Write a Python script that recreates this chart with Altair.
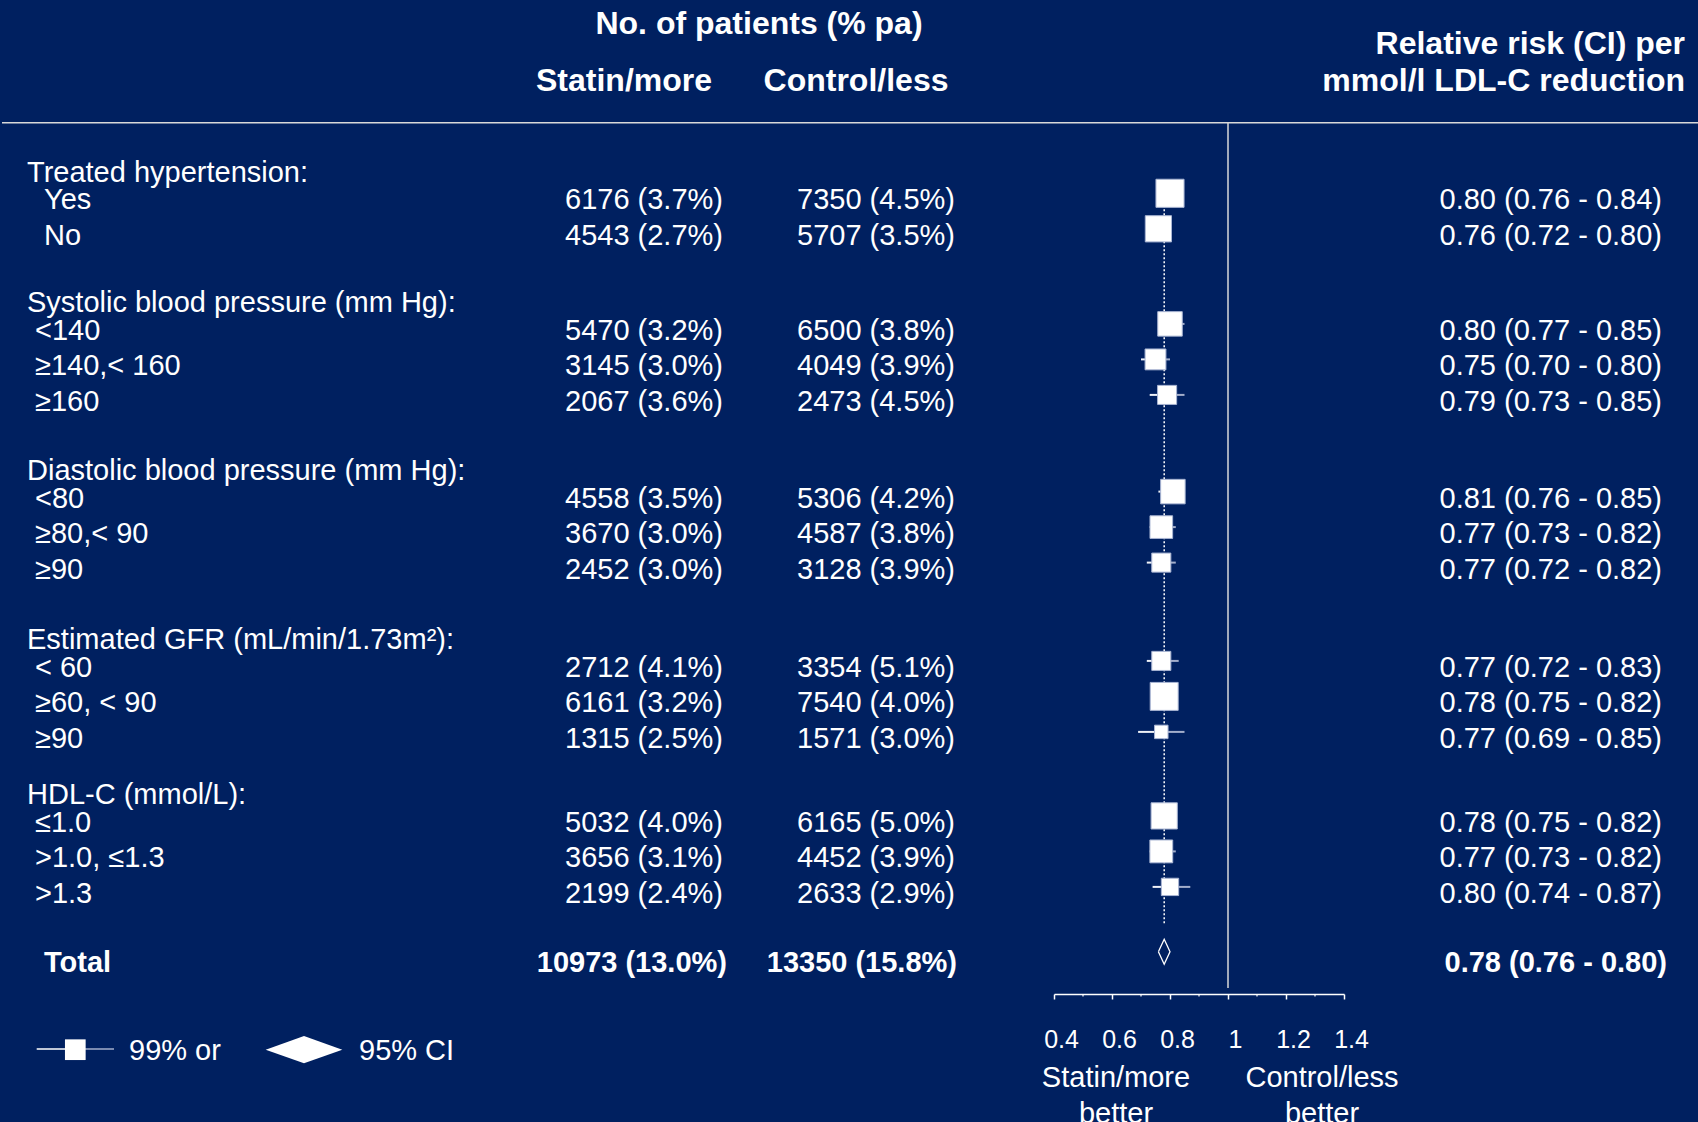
import altair as alt
import pandas as pd

# ------------------------------------------------------------------ data
group_titles = [
    "Treated hypertension:",
    "Systolic blood pressure (mm Hg):",
    "Diastolic blood pressure (mm Hg):",
    "Estimated GFR (mL/min/1.73m²):",
    "HDL-C (mmol/L):",
]
group_sizes = [2, 3, 3, 3, 3]
row_labels = [
    "Yes", "No",
    "<140", "≥140,< 160", "≥160",
    "<80", "≥80,< 90", "≥90",
    "< 60", "≥60, < 90", "≥90",
    "≤1.0", ">1.0, ≤1.3", ">1.3",
]
statin_events = [6176, 4543, 5470, 3145, 2067, 4558, 3670, 2452, 2712, 6161, 1315, 5032, 3656, 2199]
statin_rate = [3.7, 2.7, 3.2, 3.0, 3.6, 3.5, 3.0, 3.0, 4.1, 3.2, 2.5, 4.0, 3.1, 2.4]
control_events = [7350, 5707, 6500, 4049, 2473, 5306, 4587, 3128, 3354, 7540, 1571, 6165, 4452, 2633]
control_rate = [4.5, 3.5, 3.8, 3.9, 4.5, 4.2, 3.8, 3.9, 5.1, 4.0, 3.0, 5.0, 3.9, 2.9]
rr = [0.80, 0.76, 0.80, 0.75, 0.79, 0.81, 0.77, 0.77, 0.77, 0.78, 0.77, 0.78, 0.77, 0.80]
ci_low = [0.76, 0.72, 0.77, 0.70, 0.73, 0.76, 0.73, 0.72, 0.72, 0.75, 0.69, 0.75, 0.73, 0.74]
ci_high = [0.84, 0.80, 0.85, 0.80, 0.85, 0.85, 0.82, 0.82, 0.83, 0.82, 0.85, 0.82, 0.82, 0.87]
weight = [100, 87, 76, 55, 46, 76, 65, 46, 46, 99, 23, 87, 66, 38]  # relative box weight

total_label = "Total"
total_statin = [10973, 13.0]
total_control = [13350, 15.8]
total_rr = [0.78, 0.76, 0.80]

axis_ticks = [0.4, 0.6, 0.8, 1.0, 1.2, 1.4]
minor_ticks = [0.5, 0.7, 0.9, 1.1, 1.3]

# ------------------------------------------------------------------ page styling
BG = "#002060"
PAGE_CSS = "body{margin:0;background:%s;overflow:hidden}" % BG
patched = False
try:
    import altair.utils.html as _ah

    _orig = _ah.TEMPLATES["standard"]

    class _BlueTemplate:
        def render(self, **kw):
            html = _orig.render(**kw)
            if "<style>" in html:
                return html.replace("<style>", "<style>\n    " + PAGE_CSS, 1)
            if "<head>" in html:
                return html.replace("<head>", "<head><style>" + PAGE_CSS + "</style>", 1)
            return html

    _ah.TEMPLATES["standard"] = _BlueTemplate()
    patched = True
except Exception:
    patched = False

OFF = 0 if patched else 8          # page margin
PAGE_W, PAGE_H = 1698, 1122
AXIS_Y = 994                       # page y of the forest axis
W = PAGE_W - 2 * OFF
H = AXIS_Y - OFF
PAD_B = PAGE_H - OFF - AXIS_Y


def px(v):
    return v - OFF


# ------------------------------------------------------------------ layout / style
FONT = "Liberation Sans"
FG = "white"
LINE = "#d9d9d9"
FS = 29
HEAD0, HEAD_TO_ITEM, ITEM_STEP = 181.7, 27.6, 35.5
GROUP_GAPS = [67.5, 69.1, 70.7, 56.4, 68.8]   # vertical gap after each block
ITEM_INDENT = [44, 35, 35, 35, 35]             # x of the sub-row labels per block
BOX_SHIFT = -16

heads, items = [], []
y = HEAD0
k = 0
for g, title in enumerate(group_titles):
    heads.append({"label": title, "ypos": y})
    y += HEAD_TO_ITEM
    for j in range(group_sizes[g]):
        items.append({
            "g": g,
            "label": row_labels[k],
            "ypos": y,
            "statin": f"{statin_events[k]} ({statin_rate[k]:.1f}%)",
            "control": f"{control_events[k]} ({control_rate[k]:.1f}%)",
            "rrtxt": f"{rr[k]:.2f} ({ci_low[k]:.2f} - {ci_high[k]:.2f})",
            "rr": rr[k], "lo": ci_low[k], "hi": ci_high[k], "weight": weight[k],
        })
        k += 1
        if j < group_sizes[g] - 1:
            y += ITEM_STEP
    y += GROUP_GAPS[g]
total_y = y

heads_df = pd.DataFrame(heads)
items_df = pd.DataFrame(items)
total_df = pd.DataFrame([{
    "label": total_label, "ypos": total_y,
    "statin": f"{total_statin[0]} ({total_statin[1]:.1f}%)",
    "control": f"{total_control[0]} ({total_control[1]:.1f}%)",
    "rrtxt": f"{total_rr[0]:.2f} ({total_rr[1]:.2f} - {total_rr[2]:.2f})",
}])

xscale = alt.Scale(domain=[0.4, 1.4], range=[px(1054), px(1344)], zero=False, nice=False)
yscale = alt.Scale(domain=[OFF, AXIS_Y], range=[0, H], zero=False, nice=False)
xaxis = alt.Axis(values=axis_ticks, format="~g", title=None, grid=False,
                 domainColor=FG, domainWidth=1.5, tickColor=FG, tickWidth=1.5,
                 tickSize=5, labelColor=FG, labelFont=FONT, labelFontSize=25,
                 labelBaseline="alphabetic", labelPadding=48, labelOffset=7,
                 labelFlush=False, labelOverlap=False)


def X(field):
    return alt.X(f"{field}:Q", scale=xscale, axis=xaxis)


def Y(field):
    return alt.Y(f"{field}:Q", scale=yscale, axis=None)


one = pd.DataFrame({"a": [0]})


def text(s, x, yv, align="left", bold=False, size=FS, line_height=None):
    kw = dict(text=s, align=align, baseline="alphabetic", font=FONT, fontSize=size,
              color=FG, fontWeight="bold" if bold else "normal")
    if line_height:
        kw["lineHeight"] = line_height
    return alt.Chart(one).mark_text(**kw).encode(x=alt.value(px(x)), y=alt.value(px(yv)))


layers = []

# frame lines
layers.append(alt.Chart(one).mark_rule(color=LINE, strokeWidth=1.5).encode(
    x=alt.value(px(max(2, OFF))), x2=alt.value(px(PAGE_W)), y=alt.value(px(122.7))))
layers.append(alt.Chart(pd.DataFrame({"v": [1.0]})).mark_rule(color=LINE, strokeWidth=1.5).encode(
    x=X("v"), y=alt.value(px(123)), y2=alt.value(px(988))))

# minor axis ticks
layers.append(alt.Chart(pd.DataFrame({"v": minor_ticks})).mark_rule(color=FG, strokeWidth=1.2).encode(
    x=X("v"), y=alt.value(H), y2=alt.value(H + 2.5)))

# dotted overall line
first_y = items_df["ypos"].iloc[0]
last_y = items_df["ypos"].iloc[-1]
layers.append(alt.Chart(pd.DataFrame({"v": [total_rr[0]], "y0": [first_y + BOX_SHIFT], "y1": [last_y + 22]}))
              .mark_rule(color=FG, strokeWidth=1.5, strokeDash=[2, 2])
              .encode(x=X("v"), y=Y("y0"), y2="y1"))

# confidence intervals
layers.append(alt.Chart(items_df).mark_rule(color="#eef1f7", strokeWidth=2, yOffset=BOX_SHIFT).encode(
    x=X("lo"), x2="rr", y=Y("ypos")))
layers.append(alt.Chart(items_df).mark_rule(color="#a3aecb", strokeWidth=2, yOffset=BOX_SHIFT).encode(
    x=X("rr"), x2="hi", y=Y("ypos")))

# boxes
layers.append(alt.Chart(items_df).mark_square(color=FG, opacity=1, stroke="#a9b5d3", strokeWidth=1,
                                             yOffset=BOX_SHIFT).encode(
    x=X("rr"), y=Y("ypos"),
    size=alt.Size("weight:Q", scale=alt.Scale(domain=[0, 100], range=[0, 790]), legend=None)))

# total diamond (outline)
ty = total_y - 20
dia = pd.DataFrame({"o": [0, 1, 2, 3, 4],
                    "x": [total_rr[1], total_rr[0], total_rr[2], total_rr[0], total_rr[1]],
                    "y": [ty, ty - 12.5, ty, ty + 12.5, ty]})
layers.append(alt.Chart(dia).mark_line(color=FG, strokeWidth=1.3).encode(
    x=X("x"), y=Y("y"), order="o:Q"))

# table text
base_txt = dict(baseline="alphabetic", font=FONT, fontSize=FS, color=FG)
layers.append(alt.Chart(heads_df).mark_text(align="left", **base_txt).encode(
    x=alt.value(px(27)), y=Y("ypos"), text="label:N"))
for g in range(len(group_titles)):
    layers.append(alt.Chart(items_df[items_df["g"] == g]).mark_text(align="left", **base_txt).encode(
        x=alt.value(px(ITEM_INDENT[g])), y=Y("ypos"), text="label:N"))
layers.append(alt.Chart(items_df).mark_text(align="right", **base_txt).encode(
    x=alt.value(px(723)), y=Y("ypos"), text="statin:N"))
layers.append(alt.Chart(items_df).mark_text(align="right", **base_txt).encode(
    x=alt.value(px(955)), y=Y("ypos"), text="control:N"))
layers.append(alt.Chart(items_df).mark_text(align="right", **base_txt).encode(
    x=alt.value(px(1662)), y=Y("ypos"), text="rrtxt:N"))

bold_txt = dict(base_txt, fontWeight="bold")
layers.append(alt.Chart(total_df).mark_text(align="left", **bold_txt).encode(
    x=alt.value(px(44)), y=Y("ypos"), text="label:N"))
layers.append(alt.Chart(total_df).mark_text(align="right", **bold_txt).encode(
    x=alt.value(px(727)), y=Y("ypos"), text="statin:N"))
layers.append(alt.Chart(total_df).mark_text(align="right", **bold_txt).encode(
    x=alt.value(px(957)), y=Y("ypos"), text="control:N"))
layers.append(alt.Chart(total_df).mark_text(align="right", **bold_txt).encode(
    x=alt.value(px(1667)), y=Y("ypos"), text="rrtxt:N"))

# column headers
layers.append(text("No. of patients (% pa)", 759, 33.5, "center", True, 32))
layers.append(text("Statin/more", 624, 91, "center", True, 32))
layers.append(text("Control/less", 856, 91, "center", True, 32))
layers.append(text("Relative risk (CI) per", 1685, 54, "right", True, 32))
layers.append(text("mmol/l LDL-C reduction", 1685, 91, "right", True, 32))

# axis captions
layers.append(text(["Statin/more", "better"], 1116, 1086.7, "center", False, FS, 36))
layers.append(text(["Control/less", "better"], 1322, 1086.7, "center", False, FS, 36))

# key
layers.append(alt.Chart(one).mark_rule(color=FG, strokeWidth=1.5).encode(
    x=alt.value(px(36.7)), x2=alt.value(px(70)), y=alt.value(px(1049))))
layers.append(alt.Chart(one).mark_rule(color="#a3aecb", strokeWidth=1.5).encode(
    x=alt.value(px(80)), x2=alt.value(px(114)), y=alt.value(px(1049))))
layers.append(alt.Chart(one).mark_square(color=FG, opacity=1, size=428).encode(
    x=alt.value(px(75.3)), y=alt.value(px(1049.7))))
layers.append(text("99% or", 129, 1060))
layers.append(alt.Chart(one).mark_point(shape="M -1 0 L 0 -0.356 L 1 0 L 0 0.356 Z", filled=True,
                                        color=FG, opacity=1, size=5868).encode(
    x=alt.value(px(304)), y=alt.value(px(1049.7))))
layers.append(text("95% CI", 359, 1060))

chart = alt.layer(*layers).properties(
    width=W, height=H,
    padding={"left": 0, "right": 0, "top": 0, "bottom": PAD_B},
    autosize=alt.AutoSizeParams(type="none"),
    background=BG,
).configure_view(strokeWidth=0)

chart.save("out.html", embed_options={"renderer": "svg", "actions": False})
